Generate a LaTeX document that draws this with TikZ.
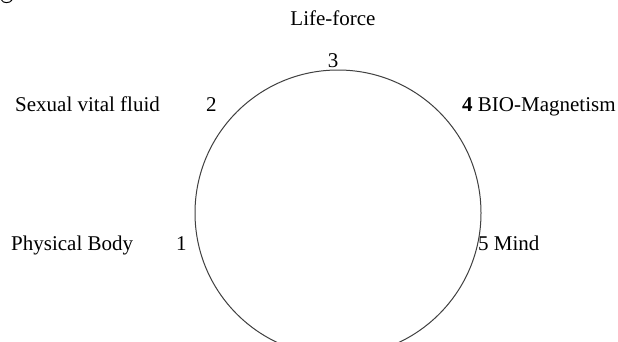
\documentclass[tikz,border=0pt]{standalone}
\usepackage{fontspec}
\setmainfont{Liberation Serif}
\begin{document}
\begin{tikzpicture}[x=1pt,y=-1pt,
  lbl/.style={inner sep=0pt, anchor=base west, font=\fontsize{21}{24}\selectfont},
  ring/.style={draw=black!75, line width=1pt}]
\useasboundingbox (0,0) rectangle (618,341);
\clip (0,0) rectangle (618,341);
\fill[white] (0,0) rectangle (618,341);
% fragment of a cut-off caption at the top-left corner
\draw[line width=1pt] (1.5,0) .. controls (3,3.5) and (10,3.5) .. (12,0);
\node[ring, circle, minimum size=286pt, inner sep=0pt] (c) at (338,213) {};
\node[lbl, anchor=base] (lf) at (333,25) {Life-force};
\node[lbl, anchor=base] (n3) at (333,67) {3};
\node[lbl] (sv) at (15,111) {Sexual vital fluid};
\node[lbl] (n2) at (206,111) {2};
\node[lbl] (bm) at (462,111) {\textbf{4} BIO-Magnetism};
\node[lbl] (pb) at (11,250) {Physical Body};
\node[lbl] (n1) at (176,250) {1};
\node[lbl] (md) at (478,250) {5 Mind};
\end{tikzpicture}
\end{document}
